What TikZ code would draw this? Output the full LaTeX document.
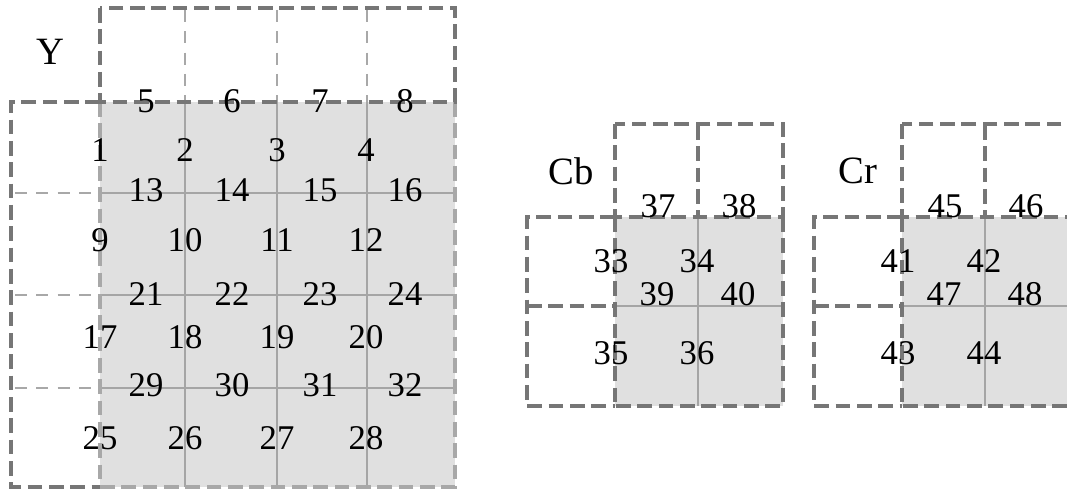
\documentclass[tikz,border=0pt]{standalone}
\usepackage{fontspec}
\setmainfont{Liberation Serif}
\usetikzlibrary{positioning}
\definecolor{cellgray}{RGB}{224,224,224}
\definecolor{dashdark}{RGB}{118,118,118}
\definecolor{dashlight}{RGB}{168,168,168}
\definecolor{gridline}{RGB}{165,165,165}

\begin{document}
\begin{tikzpicture}[x=0.75pt,y=-0.75pt,
  border/.style={draw=dashdark, line width=3pt, dash pattern=on 11pt off 5pt},
  lightborder/.style={draw=dashlight, line width=2.6pt, dash pattern=on 11pt off 5pt},
  divider/.style={draw=dashlight, line width=2pt, dash pattern=on 9pt off 7pt},
  gridline/.style={draw=gridline, line width=2.2pt},
  num/.style={font=\fontsize{26}{26}\selectfont, inner sep=0pt},
  plane/.style={font=\fontsize{29}{29}\selectfont, inner sep=0pt},
]
\clip (0,0) rectangle (1067,495);
\fill[white] (0,0) rectangle (1067,495);

% Y plane
\fill[cellgray] (100,102) rectangle (455,487);
\foreach \x in {185,277,367} \draw[gridline] (\x,102) -- (\x,487);
\foreach \y in {193,295,388} \draw[gridline] (100,\y) -- (455,\y);
\foreach \y in {193,295,388} \draw[divider] (15,\y) -- (100,\y);
\foreach \x in {185,277,367} \draw[divider] (\x,10) -- (\x,102);
\draw[lightborder] (100,102) -- (100,487);
\draw[lightborder] (455,102) -- (455,487) -- (100,487);
\draw[border] (100,8) rectangle (455,102);
\draw[border] (100,102) -- (11,102) -- (11,487) -- (100,487);

\node[plane] (ylabel) at (50,52) {Y};
\foreach \r/\y in {0/150,1/240,2/337,3/438}
  \foreach \c/\x in {0/100,1/185,2/277,3/366} {
    \pgfmathtruncatemacro\n{8*\r+\c+1}
    \node[num] (y\n) at (\x,\y) {\n};
  }
\foreach \r/\y in {0/101,1/190,2/294,3/385}
  \foreach \c/\x in {0/146,1/232,2/320,3/405} {
    \pgfmathtruncatemacro\n{8*\r+\c+5}
    \node[num] (y\n) at (\x,\y) {\n};
  }

% Cb and Cr planes
\foreach \dx/\name/\na/\nb/\nc/\nd/\ne/\nf/\ng/\nh in
    {0/Cb/37/38/33/34/39/40/35/36, 287/Cr/45/46/41/42/47/48/43/44} {
  \begin{scope}[shift={(\dx,0)}]
    \fill[cellgray] (615,217) rectangle (783,406);
    \draw[gridline] (698,217) -- (698,406);
    \draw[gridline] (615,306) -- (783,306);
    \draw[border] (698,125) -- (698,217);
    \draw[border] (527,306) -- (615,306);
    \draw[border] (615,124) rectangle (783,217);
    \draw[border] (615,217) -- (527,217) -- (527,406) -- (615,406);
    \draw[border] (615,217) -- (615,406);
    \draw[border] (783,217) -- (783,406) -- (615,406);
    \node[plane] (\name) at (571,171) {\name};
    \node[num] (c\na) at (658,206) {\na};
    \node[num] (c\nb) at (739,206) {\nb};
    \node[num] (c\nc) at (611,261) {\nc};
    \node[num] (c\nd) at (697,261) {\nd};
    \node[num] (c\ne) at (657,294) {\ne};
    \node[num] (c\nf) at (738,294) {\nf};
    \node[num] (c\ng) at (611,353) {\ng};
    \node[num] (c\nh) at (697,353) {\nh};
  \end{scope}
}
\end{tikzpicture}
\end{document}
